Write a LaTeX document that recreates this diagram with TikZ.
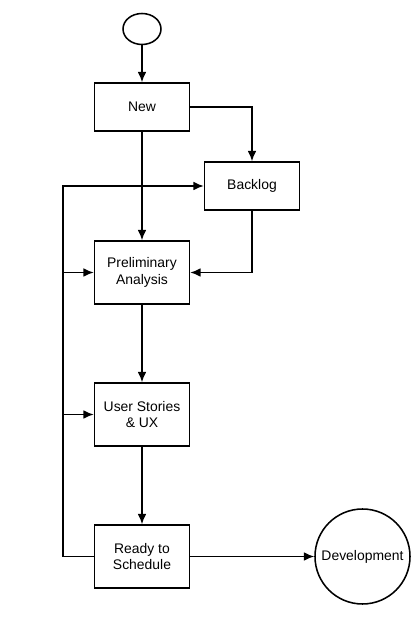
\documentclass[tikz,border=0pt]{standalone}
\usepackage{fontspec}
\setmainfont{Liberation Sans}
\usepackage{tikz}
\usetikzlibrary{arrows.meta, shapes.geometric}

\begin{document}
\begin{tikzpicture} [>={Latex[length=2.6mm, width=2.2mm]}, line width=1.1pt,
		state/.style={draw, rectangle, minimum width=2.375cm, align=center, font=\fontsize{9.9}{11.8}\selectfont},
		flow/.style={->}]
		%\draw [thin, help lines] (0,0) grid (10,15);
		\useasboundingbox (0,0) rectangle (10.4,15.75);
		\node[draw, ellipse, minimum width=0.95cm, minimum height=0.775cm] (start) at (3.55, 15.025) {};
		\node[state, minimum height=1.2cm] (new) at (3.55, 13.075) {New};
		\node[state, minimum height=1.2cm] (backlog) at (6.3, 11.1) {Backlog};
		\node[state, minimum height=1.575cm] (prelim) at (3.55, 8.9375) {Preliminary\\Analysis};
		\node[state, minimum height=1.575cm] (stories) at (3.55, 5.3875) {User Stories\\\& UX};
		\node[state, minimum height=1.575cm] (ready) at (3.55, 1.8375) {Ready to\\Schedule};
		\node[draw, circle, minimum size=2.375cm, inner sep=0pt, font=\fontsize{9.9}{11.8}\selectfont] (dev) at (9.0625, 1.8375) {Development};
		\coordinate (back) at (1.575, 11.1);
		\draw[flow] (start) -- (new);
		\draw[flow] (new.east) -| (backlog.north);
		\draw[flow] (new) -- (prelim);
		\draw[flow] (backlog.south) |- (prelim.east);
		\draw[flow] (prelim) -- (stories);
		\draw[flow] (stories) -- (ready);
		\draw[flow] (ready) -- (dev);
		\draw[flow] (ready.west) -| (back) -- (backlog.west);
		\draw[flow] (back |- prelim.west) -- (prelim.west);
		\draw[flow] (back |- stories.west) -- (stories.west);
	\end{tikzpicture}
\end{document}
